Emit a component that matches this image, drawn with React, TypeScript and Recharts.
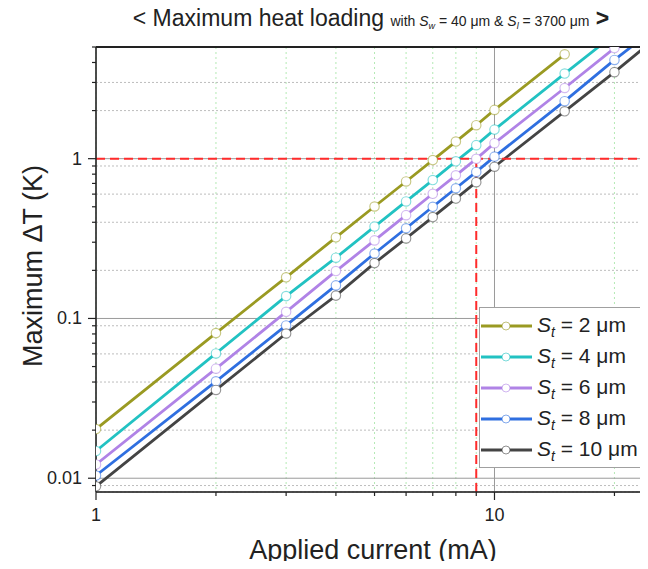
import React from 'react';
import { LineChart, Line, XAxis, YAxis, CartesianGrid, ReferenceLine, Legend } from 'recharts';

// Applied current (mA)
const currents = [1, 2, 3, 4, 5, 6, 7, 8, 9, 10, 15, 20, 25];
// Maximum ΔT (K) for each thickness S_t
const st2 = [0.0203, 0.081, 0.181, 0.322, 0.502, 0.72, 0.98, 1.28, 1.62, 2.02, 4.5, null, null];
const st4 = [0.0148, 0.0604, 0.138, 0.24, 0.376, 0.54, 0.735, 0.962, 1.215, 1.52, 3.41, 6.0, null];
const st6 = [0.0122, 0.0485, 0.11, 0.198, 0.308, 0.443, 0.603, 0.787, 0.998, 1.25, 2.77, 4.92, null];
const st8 = [0.0104, 0.0404, 0.0904, 0.161, 0.255, 0.367, 0.5, 0.653, 0.826, 1.03, 2.29, 4.15, 6.4];
const st10 = [0.0089, 0.0357, 0.0805, 0.139, 0.222, 0.317, 0.431, 0.563, 0.713, 0.89, 1.98, 3.48, 5.5];

const seriesNames = ['st2', 'st4', 'st6', 'st8', 'st10'];
const seriesValues = [st2, st4, st6, st8, st10];
const seriesLabels = ['2', '4', '6', '8', '10'];
const seriesColors = ['#9a9a22', '#22c2c2', '#b083e6', '#2f6fe0', '#444444'];

const xDomain = [1, 24];
const yDomain = [0.0082, 5];
const xMajorTicks = [1, 10];
const xMinorTicks = [2, 3, 4, 5, 6, 7, 8, 9, 20];
const yMajorTicks = [0.01, 0.1, 1];
const yMajorLabels = ['0.01', '0.1', '1'];
const yMinorTicks = [0.009, 0.02, 0.03, 0.04, 0.05, 0.06, 0.07, 0.08, 0.09, 0.2, 0.3, 0.4, 0.5, 0.6, 0.7, 0.8, 0.9, 2, 3, 4, 5];
const thresholdCurrent = 9;
const thresholdDeltaT = 1;

const data = currents.map((c, i) => {
  const row: any = { current: c };
  seriesNames.forEach((n, k) => {
    row[n] = seriesValues[k][i];
  });
  return row;
});

const FONT = '"Liberation Sans", Arial, sans-serif';
const INK = '#222';

const XTick = (props: any) => {
  const { x, y, payload } = props;
  const v = payload.value;
  const major = xMajorTicks.includes(v);
  return (
    <g>
      <line x1={x} x2={x} y1={y} y2={y + (major ? 8 : 4)} stroke={INK} strokeWidth={1.2} />
      {major && (
        <text x={x} y={y + 29} textAnchor="middle" fontSize={18} fill={INK} fontFamily={FONT}>
          {v}
        </text>
      )}
    </g>
  );
};

const YTick = (props: any) => {
  const { x, y, payload } = props;
  const v = payload.value;
  const idx = yMajorTicks.indexOf(v);
  const major = idx >= 0;
  return (
    <g>
      <line x1={x} x2={x - (major ? 8 : 4)} y1={y} y2={y} stroke={INK} strokeWidth={1.2} />
      {major && (
        <text x={x - 14} y={y + 6} textAnchor="end" fontSize={18} fill={INK} fontFamily={FONT}>
          {yMajorLabels[idx]}
        </text>
      )}
    </g>
  );
};

const LegendBox = () => (
  <div
    style={{
      width: 163,
      height: 161,
      border: '1px solid #a0a0a0',
      background: '#fff',
      boxSizing: 'border-box',
      paddingTop: 3,
      fontFamily: FONT,
      color: INK,
    }}
  >
    {seriesNames.map((n, k) => (
      <div key={n} style={{ display: 'flex', alignItems: 'center', height: 30.8 }}>
        <svg width={52} height={12} style={{ display: 'block' }}>
          <line x1={1} x2={52} y1={6} y2={6} stroke={seriesColors[k]} strokeWidth={2.8} />
          <circle cx={26} cy={6} r={4} fill="#fff" stroke={seriesColors[k]} strokeOpacity={0.6} strokeWidth={1} />
        </svg>
        <span style={{ marginLeft: 5, fontSize: 21, lineHeight: '22px', whiteSpace: 'nowrap' }}>
          <i>S</i>
          <i style={{ fontSize: 14, position: 'relative', top: 5 }}>t</i> = {seriesLabels[k]} μm
        </span>
      </div>
    ))}
  </div>
);

export default function App() {
  return (
    <div style={{ position: 'relative', width: 648, height: 569, margin: -8, fontFamily: FONT, background: '#fff' }}>
      <div
        style={{
          position: 'absolute',
          top: 3,
          left: 0,
          width: 742,
          textAlign: 'center',
          whiteSpace: 'nowrap',
          color: INK,
          fontSize: 23,
          lineHeight: '30px',
        }}
      >
        &lt; Maximum heat loading{' '}
        <span style={{ fontSize: 14 }}>
          with <i>S</i>
          <i style={{ fontSize: 9, position: 'relative', top: 3 }}>w</i> = 40 μm &amp; <i>S</i>
          <i style={{ fontSize: 9, position: 'relative', top: 3 }}>l</i> = 3700 μm
        </span>{' '}
        <b>&gt;</b>
      </div>
      <div
        style={{
          position: 'absolute',
          left: 33,
          top: 266,
          transform: 'translate(-50%, -50%) rotate(-90deg)',
          whiteSpace: 'nowrap',
          fontSize: 27,
          color: INK,
        }}
      >
        Maximum ΔT (K)
      </div>
      <div
        style={{
          position: 'absolute',
          left: 373,
          top: 550,
          transform: 'translate(-50%, -50%)',
          whiteSpace: 'nowrap',
          fontSize: 27,
          color: INK,
        }}
      >
        Applied current (mA)
      </div>
      <div style={{ position: 'absolute', left: 0, top: 0 }}>
        <LineChart width={648} height={569} data={data} margin={{ top: 47, right: 2, bottom: 0, left: 0 }}>
          <XAxis xAxisId="minor" hide type="number" scale="log" domain={xDomain} allowDataOverflow ticks={xMinorTicks} dataKey="current" />
          <YAxis yAxisId="minor" hide type="number" scale="log" domain={yDomain} allowDataOverflow ticks={yMinorTicks} />
          <XAxis xAxisId="major" hide type="number" scale="log" domain={xDomain} allowDataOverflow ticks={xMajorTicks} dataKey="current" />
          <YAxis yAxisId="major" hide type="number" scale="log" domain={yDomain} allowDataOverflow ticks={yMajorTicks} />
          <CartesianGrid xAxisId="minor" yAxisId="minor" horizontal={false} stroke="#b4eab4" strokeDasharray="2 3" />
          <CartesianGrid xAxisId="minor" yAxisId="minor" vertical={false} stroke="#bdbdbd" strokeDasharray="2 2" />
          <CartesianGrid xAxisId="major" yAxisId="major" stroke="#9a9a9a" strokeWidth={1} />
          <XAxis
            dataKey="current"
            type="number"
            scale="log"
            domain={xDomain}
            allowDataOverflow
            ticks={[...xMajorTicks, ...xMinorTicks]}
            tick={<XTick />}
            tickLine={false}
            tickSize={0}
            tickMargin={0}
            height={77}
            axisLine={{ stroke: INK, strokeWidth: 1.5 }}
            interval={0}
          />
          <YAxis
            type="number"
            scale="log"
            domain={yDomain}
            allowDataOverflow
            ticks={[...yMajorTicks, ...yMinorTicks]}
            tick={<YTick />}
            tickLine={false}
            tickSize={0}
            tickMargin={0}
            width={96}
            axisLine={{ stroke: INK, strokeWidth: 1.5 }}
            interval={0}
          />
          {seriesNames.map((n, k) => (
            <Line
              key={n}
              dataKey={n}
              type="linear"
              stroke={seriesColors[k]}
              strokeWidth={2.8}
              dot={{ r: 4.7, fill: '#fff', stroke: seriesColors[k], strokeOpacity: 0.55, strokeWidth: 1.2 }}
              activeDot={false}
              isAnimationActive={false}
              connectNulls={false}
            />
          ))}
          <ReferenceLine y={yDomain[1]} stroke={INK} strokeWidth={2} ifOverflow="extendDomain" />
          <ReferenceLine y={thresholdDeltaT} stroke="#ff2b2b" strokeWidth={2} strokeDasharray="9 5" />
          <ReferenceLine
            segment={[
              { x: thresholdCurrent, y: yDomain[0] },
              { x: thresholdCurrent, y: thresholdDeltaT },
            ]}
            stroke="#ff2b2b"
            strokeWidth={2}
            strokeDasharray="9 5"
          />
          <Legend
            content={<LegendBox />}
            layout="vertical"
            align="center"
            verticalAlign="middle"
            wrapperStyle={{ left: 479, top: 307, width: 163, height: 161 }}
          />
        </LineChart>
      </div>
    </div>
  );
}
